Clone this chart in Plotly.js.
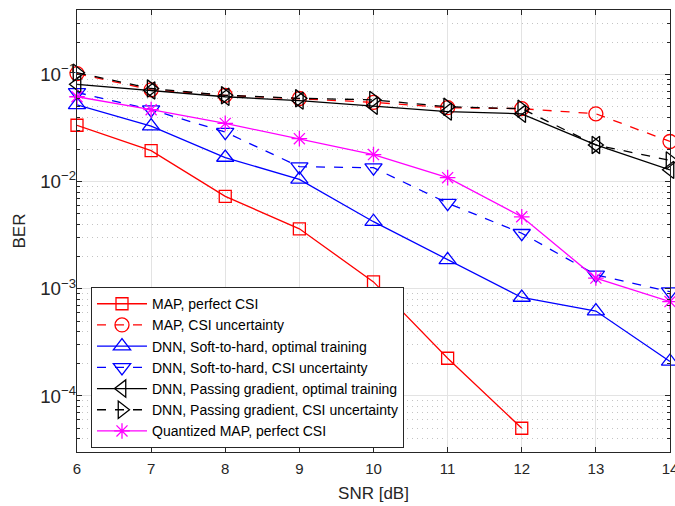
<!DOCTYPE html>
<html>
<head>
<meta charset="utf-8">
<script src="https://cdn.plot.ly/plotly-3.0.1.min.js"></script>
<style>html,body{margin:0;padding:0;background:#fff;}#chart{width:675px;height:506px;}</style>
</head>
<body>
<div id="chart"></div>
<script>
const snr = [6, 7, 8, 9, 10, 11, 12, 13, 14];
const snrMapPerfect = [6, 7, 8, 9, 10, 11, 12];
const mapPerfect = [0.0336, 0.0195, 0.0073, 0.00363, 0.00116, 0.000225, 0.00005];
const mapUncert = [0.102, 0.072, 0.064, 0.0597, 0.055, 0.049, 0.048, 0.043, 0.0237];
const sthOptimal = [0.052, 0.033, 0.0168, 0.0105, 0.00423, 0.00186, 0.00083, 0.00062, 0.00021];
const sthUncert = [0.068, 0.047, 0.029, 0.0138, 0.0135, 0.0063, 0.0033, 0.00135, 0.00094];
const pgOptimal = [0.081, 0.071, 0.062, 0.057, 0.051, 0.045, 0.043, 0.022, 0.0129];
const pgUncert = [0.104, 0.074, 0.064, 0.060, 0.058, 0.050, 0.048, 0.022, 0.0158];
const qMap = [0.062, 0.047, 0.035, 0.0252, 0.0179, 0.0109, 0.0047, 0.00126, 0.00076];
const names = [
  'MAP, perfect CSI',
  'MAP, CSI uncertainty',
  'DNN, Soft-to-hard, optimal training',
  'DNN, Soft-to-hard, CSI uncertainty',
  'DNN, Passing gradient, optimal training',
  'DNN, Passing gradient, CSI uncertainty',
  'Quantized MAP, perfect CSI'
];
const xTicks = [6, 7, 8, 9, 10, 11, 12, 13, 14];

function tr(x, y, name, color, dash, symbol, size) {
  return {
    x: x, y: y, name: name, type: 'scatter', mode: 'lines+markers', cliponaxis: false,
    line: {color: color, width: 1.3, dash: dash},
    marker: {symbol: symbol, size: size, color: color, line: {color: color, width: 1.3}}
  };
}
const data = [
  tr(snrMapPerfect, mapPerfect, names[0], '#FF0000', 'solid', 'square-open', 12),
  tr(snr, mapUncert, names[1], '#FF0000', 'dash', 'circle-open', 14),
  tr(snr, sthOptimal, names[2], '#0000FF', 'solid', 'triangle-up-open', 15),
  tr(snr, sthUncert, names[3], '#0000FF', 'dash', 'triangle-down-open', 15),
  tr(snr, pgOptimal, names[4], '#000000', 'solid', 'triangle-left-open', 15),
  tr(snr, pgUncert, names[5], '#000000', 'dash', 'triangle-right-open', 15),
  tr(snr, qMap, names[6], '#FF00FF', 'solid', 'asterisk-open', 13)
];
const axCol = '#262626';
const layout = {
  width: 675, height: 506,
  margin: {l: 77, r: 5, t: 10, b: 54},
  paper_bgcolor: '#fff', plot_bgcolor: '#fff',
  font: {family: 'Liberation Sans, Arial, sans-serif', color: axCol, size: 15},
  showlegend: true,
  xaxis: {
    range: [6, 14], tickvals: xTicks, ticktext: xTicks.map(String),
    showline: true, linecolor: axCol, linewidth: 1, mirror: 'ticks',
    ticks: 'inside', ticklen: 5, tickcolor: axCol, ticklabeloverflow: 'allow', ticklabelstandoff: 3,
    showgrid: true, gridcolor: '#e3e3e3', gridwidth: 1, zeroline: false,
    tickfont: {size: 15, color: axCol},
    title: {text: 'SNR [dB]', font: {size: 17, color: axCol}, standoff: 11}
  },
  yaxis: {
    type: 'log', range: [Math.log10(3e-5), Math.log10(0.4)],
    dtick: 1, exponentformat: 'power', showexponent: 'all',
    showline: true, linecolor: axCol, linewidth: 1, mirror: 'ticks',
    ticks: 'inside', ticklen: 5, tickcolor: axCol, ticklabelstandoff: -3,
    showgrid: true, gridcolor: '#e3e3e3', gridwidth: 1, zeroline: false,
    tickfont: {size: 15, color: axCol},
    minor: {dtick: 'D1', ticks: 'inside', ticklen: 3, tickcolor: axCol, showgrid: true, gridcolor: '#c4c4c4', griddash: '1px,4px', gridwidth: 1},
    title: {text: 'BER', font: {size: 17, color: axCol}, standoff: 10}
  },
  legend: {
    x: 0.0236, y: 0.373, xanchor: 'left', yanchor: 'top',
    bgcolor: '#fff', bordercolor: axCol, borderwidth: 1,
    font: {size: 14, color: '#000'}, itemwidth: 50, tracegroupgap: 0
  }
};
Plotly.newPlot('chart', data, layout, {displayModeBar: false, staticPlot: true});
</script>
</body>
</html>
